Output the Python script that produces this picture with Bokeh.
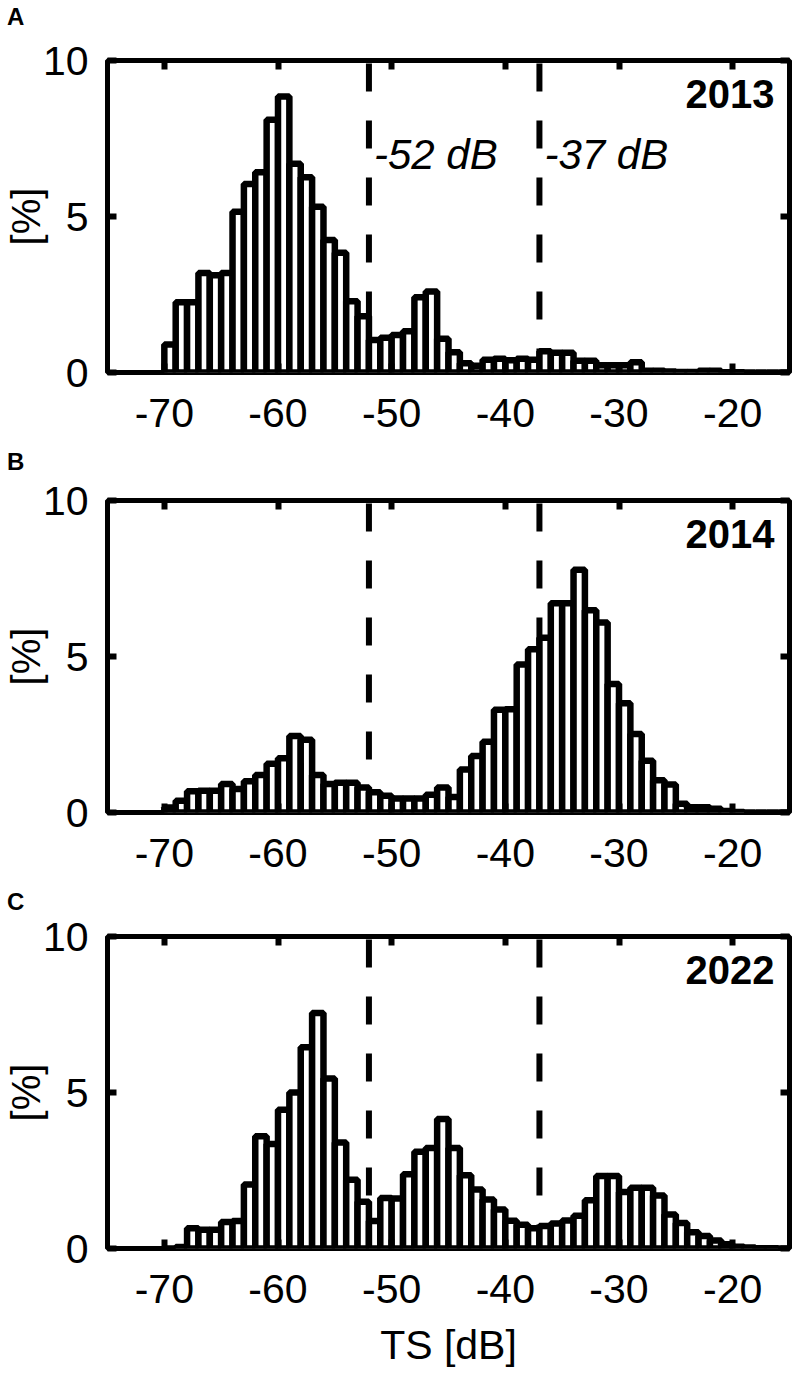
from bokeh.plotting import figure
from bokeh.layouts import column
from bokeh.models import Label, LinearAxis, FixedTicker, ColumnDataSource, Div
from bokeh.embed import file_html
from bokeh.resources import INLINE

# ---------------- data ----------------
bin_left = list(range(-70, -15))          # 1-dB TS bins, left edges -70 ... -16
bin_width = 1

years = ["2013", "2014", "2022"]
panel_letters = ["A", "B", "C"]

pct_2013 = [0.9, 2.25, 2.25, 3.19, 3.12, 3.19, 5.15, 6.04, 6.42, 8.1,
            8.85, 6.69, 6.26, 5.31, 4.25, 3.84, 2.28, 1.8, 1.04, 1.11,
            1.2, 1.32, 2.41, 2.6, 1.08, 0.65, 0.3, 0.22, 0.41, 0.44,
            0.39, 0.44, 0.41, 0.68, 0.63, 0.63, 0.38, 0.38, 0.23, 0.23,
            0.23, 0.33, 0.06, 0.06, 0.03, 0.02, 0.02, 0.06, 0.06, 0.01,
            0.01, 0.0, 0.0, 0.0, 0.0]

pct_2014 = [0.16, 0.38, 0.68, 0.7, 0.7, 0.91, 0.75, 1.0, 1.2, 1.56,
            1.74, 2.45, 2.33, 1.2, 0.91, 0.95, 0.95, 0.8, 0.65, 0.54,
            0.45, 0.45, 0.45, 0.57, 0.8, 0.5, 1.38, 1.81, 2.27, 3.29,
            3.31, 4.74, 5.23, 5.6, 6.71, 6.71, 7.78, 6.48, 6.09, 4.12,
            3.5, 2.52, 1.66, 1.03, 0.9, 0.28, 0.17, 0.17, 0.12, 0.05,
            0.02, 0.0, 0.0, 0.0, 0.0]

pct_2022 = [0.0, 0.05, 0.65, 0.6, 0.6, 0.85, 0.88, 2.05, 3.6, 3.35,
            4.45, 5.0, 6.45, 7.55, 5.45, 3.4, 2.2, 1.5, 0.88, 1.62,
            1.6, 2.38, 3.1, 3.22, 4.15, 3.22, 2.35, 1.89, 1.57, 1.25,
            0.89, 0.76, 0.65, 0.72, 0.8, 0.9, 1.05, 1.55, 2.32, 2.32,
            1.81, 1.95, 1.95, 1.7, 1.09, 0.82, 0.52, 0.4, 0.26, 0.14,
            0.06, 0.03, 0.01, 0.01, 0.0]

thresholds = [-52, -37]
threshold_labels = ["-52 dB", "-37 dB"]

x_ticks = [-70, -60, -50, -40, -30, -20]
y_ticks = [0, 5, 10]
x_min, x_max = -75, -15
y_min, y_max = 0, 10

# ---------------- style ----------------
FONT = "Liberation Sans"
TICK_SIZE = "41px"
FRAME_H = 312
LEFT_B = 104
RIGHT_B = 3
FRAME_W = 685
WIDTH = LEFT_B + FRAME_W + RIGHT_B


def style_axis(ax, labels=True):
    ax.axis_line_color = None
    ax.major_tick_in = 9
    ax.major_tick_out = 0
    ax.major_tick_line_width = 6
    ax.major_tick_line_color = "black"
    ax.minor_tick_line_color = None
    if labels:
        ax.major_label_text_font = FONT
        ax.major_label_text_font_size = TICK_SIZE
        ax.major_label_text_color = "black"
    else:
        ax.major_label_text_color = None
        ax.major_label_text_font_size = "1px"
        ax.major_label_standoff = 0


def letter_div(letter, height, drop):
    return Div(text=f'<span style="position:relative; left:7px; top:{drop}px">{letter}</span>',
               width=WIDTH, height=height, margin=0,
               styles={"font-family": FONT, "font-size": "24px", "font-weight": "bold",
                       "line-height": "24px", "color": "black", "overflow": "hidden"})


def make_panel(pct, year, top_border, bottom_border, with_thr_labels, with_xlabel):
    p = figure(width=WIDTH, height=top_border + FRAME_H + bottom_border,
               x_range=(x_min, x_max), y_range=(y_min, y_max),
               output_backend="svg", toolbar_location=None,
               min_border_left=LEFT_B, min_border_right=RIGHT_B,
               min_border_top=top_border, min_border_bottom=bottom_border,
               background_fill_color="white", border_fill_color="white")
    p.outline_line_color = "black"
    p.outline_line_width = 5
    p.outline_line_alpha = 1
    p.xgrid.visible = False
    p.ygrid.visible = False
    p.title.text = ""
    p.title.text_font_size = "1px"
    p.title.standoff = 0

    p.xaxis.ticker = FixedTicker(ticks=x_ticks)
    p.yaxis.ticker = FixedTicker(ticks=y_ticks)
    p.xaxis.major_label_overrides = {t: str(t) for t in x_ticks}
    p.yaxis.major_label_overrides = {t: str(t) for t in y_ticks}
    style_axis(p.xaxis[0])
    style_axis(p.yaxis[0])
    p.xaxis.major_label_standoff = 26
    p.yaxis.major_label_standoff = 19

    p.yaxis.axis_label = "[%]"
    p.yaxis.axis_label_text_font = FONT
    p.yaxis.axis_label_text_font_size = "40px"
    p.yaxis.axis_label_text_font_style = "normal"
    p.yaxis.axis_label_text_color = "black"
    p.yaxis.axis_label_standoff = -8

    if with_xlabel:
        p.xaxis.axis_label = "TS [dB]"
        p.xaxis.axis_label_text_font = FONT
        p.xaxis.axis_label_text_font_size = "41px"
        p.xaxis.axis_label_text_font_style = "normal"
        p.xaxis.axis_label_text_color = "black"
        p.xaxis.axis_label_standoff = 16

    top_ax = LinearAxis(ticker=FixedTicker(ticks=x_ticks))
    style_axis(top_ax, labels=False)
    p.add_layout(top_ax, "above")
    right_ax = LinearAxis(ticker=FixedTicker(ticks=y_ticks))
    style_axis(right_ax, labels=False)
    p.add_layout(right_ax, "right")

    # threshold lines
    p.segment(x0=thresholds, y0=[y_max] * len(thresholds),
              x1=thresholds, y1=[y_min] * len(thresholds),
              line_color="black", line_width=6, line_dash="28 29",
              line_dash_offset=54)

    # histogram bars
    src = ColumnDataSource(dict(left=bin_left,
                                right=[b + bin_width for b in bin_left],
                                top=pct))
    p.quad(left="left", right="right", bottom=0, top="top", source=src,
           fill_color="white", line_color="black", line_width=6.5)

    p.add_layout(Label(x=x_max, y=y_max, x_offset=-15, y_offset=-33, text=year,
                       text_font=FONT, text_font_size="40px", text_font_style="bold",
                       text_align="right", text_baseline="middle",
                       text_color="black"))
    if with_thr_labels:
        for t, lab in zip(thresholds, threshold_labels):
            p.add_layout(Label(x=t, y=y_max, x_offset=5, y_offset=-94, text=lab,
                               text_font=FONT, text_font_size="42px",
                               text_font_style="italic", text_align="left",
                               text_baseline="middle", text_color="black"))
    return p


dA = letter_div(panel_letters[0], 30, 5)
pA = make_panel(pct_2013, years[0], 30, 76, True, False)
dB = letter_div(panel_letters[1], 27, 2)
pB = make_panel(pct_2014, years[1], 25, 72, False, False)
dC = letter_div(panel_letters[2], 30, 6)
pC = make_panel(pct_2022, years[2], 22, 128, False, True)

layout = column(dA, pA, dB, pB, dC, pC, spacing=0)
open("out.html", "w").write(file_html(layout, INLINE, "TS histograms"))
